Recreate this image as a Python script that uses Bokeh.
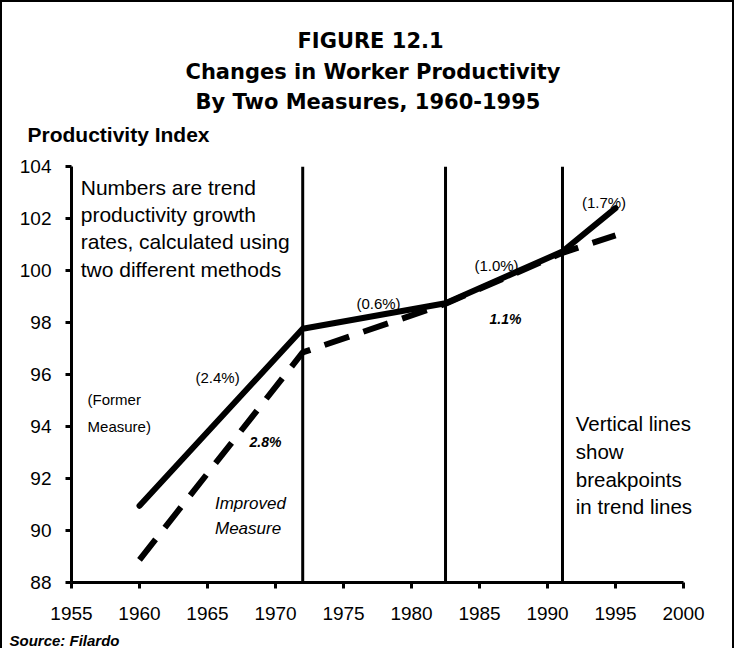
from bokeh.plotting import figure
from bokeh.models import Label, Range1d, FixedTicker, Title
from bokeh.embed import file_html
from bokeh.resources import INLINE

# ---------------- data ----------------
years = [1960, 1972, 1982.5, 1991.1, 1995]
former_index = [90.95, 97.76, 98.74, 100.73, 102.4]
improved_index = [88.87, 96.85, 98.72, 100.68, 101.35]
breakpoint_years = [1972.0, 1982.5, 1991.1]
former_rates = ["(2.4%)", "(0.6%)", "(1.0%)", "(1.7%)"]
improved_rates = ["2.8%", "1.1%"]
x_ticks = [1955, 1960, 1965, 1970, 1975, 1980, 1985, 1990, 1995, 2000]
y_ticks = [88, 90, 92, 94, 96, 98, 100, 102, 104]

title_lines = ["FIGURE 12.1", "Changes in Worker Productivity", "By Two Measures, 1960-1995"]
y_title = "Productivity Index"
note_left = ["Numbers are trend", "productivity growth", "rates, calculated using", "two different methods"]
note_right = ["Vertical lines", "show", "breakpoints", "in trend lines"]
former_name = ["(Former", "Measure)"]
improved_name = ["Improved", "Measure"]
source_text = "Source: Filardo"

# ---------------- figure ----------------
SANS = "Liberation Sans"
p = figure(frame_width=661, frame_height=416,
           x_range=Range1d(1955, 2003.6), y_range=Range1d(88, 104),
           output_backend="svg", toolbar_location=None,
           min_border_left=69, min_border_right=0,
           min_border_top=0, min_border_bottom=0,
           background_fill_color="white", border_fill_color="white")
p.styles = {"border-top": "2px solid black", "border-left": "2px solid black",
            "border-right": "2px solid black"}
p.outline_line_color = None
p.grid.visible = False

p.xaxis.ticker = FixedTicker(ticks=x_ticks)
p.yaxis.ticker = FixedTicker(ticks=y_ticks)
p.xaxis.bounds = (1955, 2000)
p.yaxis.bounds = (88, 104)
for ax in (p.xaxis[0], p.yaxis[0]):
    ax.axis_line_width = 3
    ax.axis_line_color = "black"
    ax.major_tick_line_width = 3
    ax.major_tick_line_color = "black"
    ax.major_tick_in = 0
    ax.major_tick_out = 6
    ax.minor_tick_line_color = None
    ax.major_label_text_font = SANS
    ax.major_label_text_font_size = "19px"
    ax.major_label_text_color = "black"
p.xaxis.major_label_standoff = 18
p.yaxis.major_label_standoff = 14

# breakpoint vertical lines
p.segment(x0=breakpoint_years, y0=[88] * len(breakpoint_years),
          x1=breakpoint_years, y1=[104] * len(breakpoint_years),
          line_color="black", line_width=3)

# series
p.line(years, former_index, line_color="black", line_width=6, line_cap="round", line_join="round")
p.line(years, improved_index, line_color="black", line_width=6, line_dash="26 15")

# ---------------- titles (above, nearest the frame first) ----------------
def spacer(side, s):
    p.add_layout(Title(text=" ", text_font_size="1px", standoff=s), side)

spacer("above", 14)
p.add_layout(Title(text=y_title, text_font=SANS, text_font_size="21px", text_font_style="bold",
                   text_color="black", align="left", offset=-44, standoff=7), "above")
title_standoffs = [10, 1, 7]          # FIGURE, Changes, By Two
title_offsets = [226, 114, 124]
for t, s, o in reversed(list(zip(title_lines, title_standoffs, title_offsets))):
    p.add_layout(Title(text=t, text_font="DejaVu Sans", text_font_size="21px",
                       text_font_style="bold", text_color="black",
                       align="left", offset=o, standoff=s), "above")
spacer("above", 16)

spacer("below", 4)
p.add_layout(Title(text=source_text, text_font=SANS, text_font_size="15px",
                   text_font_style="bold italic", text_color="black",
                   align="left", offset=-62, standoff=0), "below")

# ---------------- in-plot text ----------------
def lab(x, y, text, size="20px", align="left", style="normal", font=SANS):
    p.add_layout(Label(x=x, y=y, text=text, text_font=font, text_font_size=size,
                       text_align=align, text_baseline="alphabetic",
                       text_font_style=style, text_color="black"))

for t, yy in zip(note_left, [103.2, 102.15, 101.1, 100.05]):
    lab(1955.68, yy, t, size="21px")
for t, yy in zip(note_right, [94.1, 93.04, 91.97, 90.92]):
    lab(1992.08, yy, t, size="20.5px")
for t, yy in zip(former_name, [95.04, 94.0]):
    lab(1956.18, yy, t, size="15px")
for t, yy in zip(improved_name, [91.04, 90.08]):
    lab(1965.55, yy, t, size="17px", style="italic")

former_rate_pos = [(1965.74, 95.9), (1977.57, 98.75), (1986.25, 100.2), (1994.15, 102.63)]
for t, (xx, yy) in zip(former_rates, former_rate_pos):
    lab(xx, yy, t, size="15px", align="center")
improved_rate_pos = [(1968.09, 93.42, "left"), (1986.91, 98.15, "center")]
for t, (xx, yy, al) in zip(improved_rates, improved_rate_pos):
    lab(xx, yy, t, size="14px", align=al, style="bold italic")

open("out.html", "w").write(file_html(p, INLINE))
